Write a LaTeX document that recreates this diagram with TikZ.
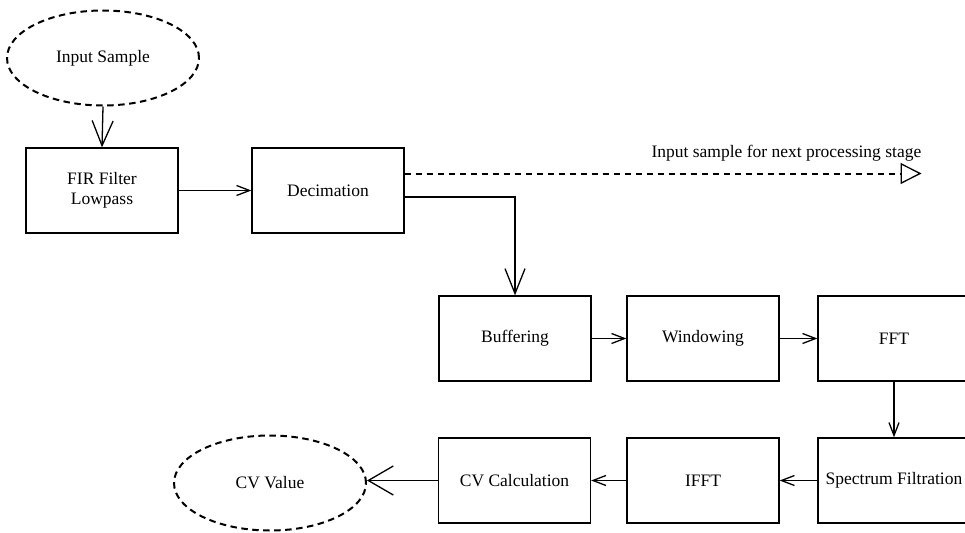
\documentclass[tikz,border=0pt]{standalone}
\usepackage{fontspec}
\setmainfont{Liberation Serif}
\usetikzlibrary{arrows.meta,shapes.geometric}

\tikzset{
  stage/.style={draw, line width=1.3pt, rectangle, minimum width=152pt,
    minimum height=85pt, inner sep=0pt, align=center,
    font=\fontsize{17.5}{20}\selectfont},
  terminal/.style={draw, ellipse, dash pattern=on 6.5pt off 4.5pt,
    line width=2pt, minimum width=192pt, minimum height=95pt, inner sep=0pt,
    font=\fontsize{17.5}{20}\selectfont},
  flow/.style={line width=1.3pt, -{Straight Barb[length=13pt,width=10pt,line width=1.3pt]}},
  bigflow/.style={line width=1.3pt, -{Straight Barb[length=25pt,width=21pt,line width=1.3pt]}},
  passon/.style={line width=2pt, dash pattern=on 6.5pt off 4.5pt,
    -{Triangle[open,length=21pt,width=21pt,line width=1.3pt,sep=0pt]}},
}

\begin{document}
\begin{tikzpicture}[x=1pt, y=-1pt]
  \useasboundingbox (0,0) rectangle (965,532);
  \clip (0,0) rectangle (965,532);

  % input / output terminals
  \node[terminal] (in)  at (103,58)  {Input Sample};
  \node[terminal] (cvv) at (270,483) {CV Value};

  % first processing row
  \node[stage] (fir) at (102,190.5) {FIR Filter\\Lowpass};
  \node[stage] (dec) at (328,190.5) {Decimation};

  % spectral processing
  \node[stage] (buf)  at (515,338.5) {Buffering};
  \node[stage] (win)  at (703,338.5) {Windowing};
  \node[stage] (fft)  at (894,338.5) {FFT};
  \node[stage] (spec) at (894,480.5) {Spectrum Filtration};
  \node[stage] (ifft) at (703,480.5) {IFFT};
  \node[stage] (cvc)  at (514.5,480.5) {CV Calculation};

  % pass-through of the decimated sample (yshift is in page direction: up)
  \coordinate (next) at (921.5,173.5);
  \draw[passon] ([yshift=17pt]dec.east) -- (next);
  \node[anchor=base east, inner sep=0pt, font=\fontsize{17.5}{20}\selectfont]
    (nextlbl) at (921.5,157) {Input sample for next processing stage};

  % connectors
  \draw[bigflow] (in.south) -- (fir.north);
  \draw[flow] (fir.east) -- (dec.west);
  \draw[line width=1.3pt, -{Straight Barb[length=25pt,width=20pt,line width=1.3pt]}]
    ([yshift=-6.5pt]dec.east) -| (buf.north);
  \draw[flow] (buf.east) -- (win.west);
  \draw[flow] (win.east) -- (fft.west);
  \draw[flow] (fft.south) -- (spec.north);
  \draw[flow] (spec.west) -- (ifft.east);
  \draw[flow] (ifft.west) -- (cvc.east);
  \draw[line width=1.3pt, -{Straight Barb[length=25pt,width=29pt,line width=1.3pt]}]
    (cvc.west) -- (cvc.west -| cvv.east);
\end{tikzpicture}
\end{document}
